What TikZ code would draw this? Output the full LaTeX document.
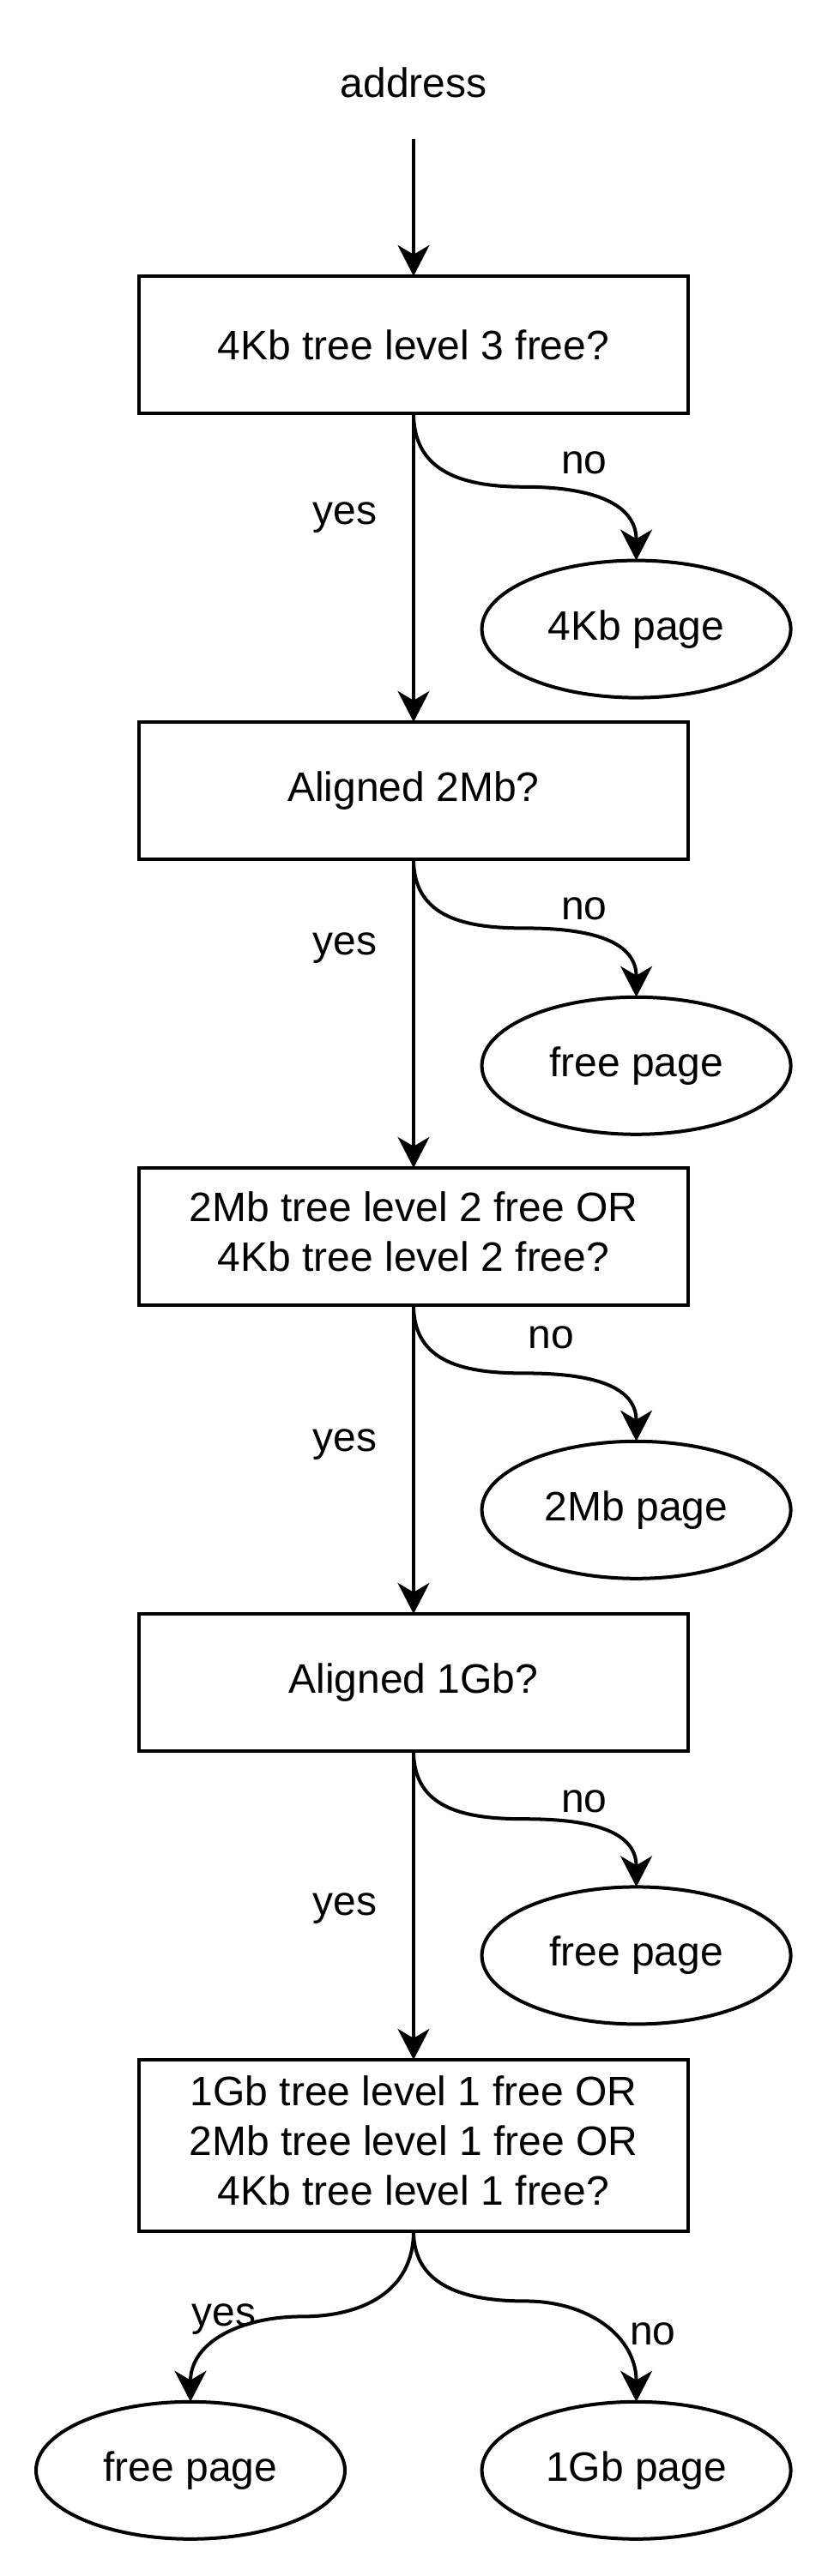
\documentclass[tikz,border=0pt]{standalone}
\usepackage{fontspec}
\setmainfont{Liberation Sans}
\usetikzlibrary{shapes.geometric,arrows.meta,calc}
\tikzset{
  every node/.style={font=\fontsize{12}{14.4}\selectfont, inner sep=0pt, outer sep=0pt},
  decision/.style={draw, line width=1pt, rectangle, minimum width=160pt, minimum height=40pt, align=center},
  terminal/.style={draw, line width=1pt, ellipse, minimum width=90pt, minimum height=40pt, align=center},
  lbl/.style={align=center},
  arr/.style={line width=1pt, -{Stealth[length=9pt,width=9.2pt,inset=2.7pt]}},
}
\begin{document}
\begin{tikzpicture}[x=1pt,y=-1pt]
\useasboundingbox (0,0) rectangle (241,751);
\node[minimum width=60pt, minimum height=33pt] (addr) at (120.5,24) {address};
\node[decision] (b1) at (120.5,100.5) {4Kb tree level 3 free?};
\node[terminal] (e1) at (185.4,183.4) {4Kb page};
\node[decision] (b2) at (120.5,230.5) {Aligned 2Mb?};
\node[terminal] (e2) at (185.4,310.7) {free page};
\node[decision] (b3) at (120.5,360.5) {\raisebox{0.8pt}{\begin{tabular}{@{}c@{}}2Mb tree level 2 free OR\\4Kb tree level 2 free?\end{tabular}}};
\node[terminal] (e3) at (185.4,440.2) {2Mb page};
\node[decision] (b4) at (120.5,490.5) {Aligned 1Gb?};
\node[terminal] (e4) at (185.4,570.1) {free page};
\node[decision, minimum height=50pt] (b5) at (120.5,625.5) {\raisebox{0.8pt}{\begin{tabular}{@{}c@{}}1Gb tree level 1 free OR\\2Mb tree level 1 free OR\\4Kb tree level 1 free?\end{tabular}}};
\node[terminal] (e5l) at (55.5,720.2) {free page};
\node[terminal] (e5r) at (185.4,720.2) {1Gb page};
% labels
\node[lbl] (no1) at (170.2,135) {no};
\node[lbl] (yes1) at (100.5,151) {yes};
\node[lbl] (no2) at (170.2,265) {no};
\node[lbl] (yes2) at (100.5,276.5) {yes};
\node[lbl] (no3) at (160.5,390) {no};
\node[lbl] (yes3) at (100.5,421.2) {yes};
\node[lbl] (no4) at (170.2,525.2) {no};
\node[lbl] (yes4) at (100.5,556.3) {yes};
\node[lbl] (yes5) at (65.2,676.2) {yes};
\node[lbl] (no5) at (190.2,680.4) {no};
% straight arrows
\draw[arr] (addr.south) -- (b1.north);
\draw[arr] (b1.south) -- (b2.north);
\draw[arr] (b2.south) -- (b3.north);
\draw[arr] (b3.south) -- (b4.north);
\draw[arr] (b4.south) -- (b5.north);
% curved arrows
\foreach \b/\e in {b1/e1,b2/e2,b3/e3,b4/e4}{
  \draw[arr] (\b.south) to[out=-90,in=180,looseness=1.15] ($(\b.south)!0.5!(\e.north)$) to[out=0,in=90,looseness=1.15] (\e.north);
}
\draw[arr] (b5.south) to[out=-90,in=0,looseness=1.1] ($(b5.south)!0.5!(e5l.north)$) to[out=180,in=90,looseness=1.1] (e5l.north);
\draw[arr] (b5.south) to[out=-90,in=180,looseness=1.1] ([yshift=4.5pt]$(b5.south)!0.5!(e5r.north)$) to[out=0,in=90,looseness=1.1] (e5r.north);
\end{tikzpicture}
\end{document}
